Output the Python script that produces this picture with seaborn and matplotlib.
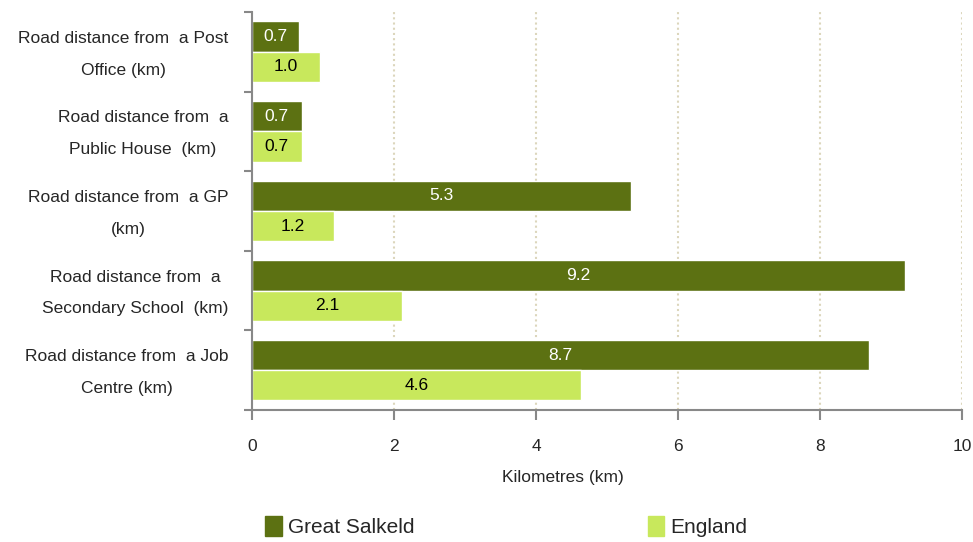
import matplotlib
matplotlib.use("Agg")
import matplotlib.pyplot as plt
import seaborn as sns
import pandas as pd

# categories and values
categories = [
    "Road distance from  a Post\nOffice (km)",
    "Road distance from  a\nPublic House  (km)",
    "Road distance from  a GP\n(km)",
    "Road distance from  a\nSecondary School  (km)",
    "Road distance from  a Job\nCentre (km)",
]
great_salkeld = [0.66, 0.70, 5.34, 9.20, 8.69]
england = [0.96, 0.70, 1.16, 2.11, 4.63]
series_names = ["Great Salkeld", "England"]
x_ticks = [0, 2, 4, 6, 8, 10]

dark = "#5c7112"
light = "#c8e85c"

df = pd.DataFrame({
    "category": categories * 2,
    "value": great_salkeld + england,
    "series": [series_names[0]] * len(categories) + [series_names[1]] * len(categories),
})

sns.set_style("white")
plt.rcParams["font.family"] = ["Liberation Sans", "DejaVu Sans"]

fig, ax = plt.subplots(figsize=(9.73, 5.42), dpi=100)
fig.subplots_adjust(left=0.259, right=0.9887, top=0.978, bottom=0.2435)

sns.barplot(data=df, y="category", x="value", hue="series", orient="h",
            palette=[dark, light], width=0.76, saturation=1, ax=ax, legend=False)

# value labels inside the bars
for cont, col in zip(ax.containers, ["white", "black"]):
    ax.bar_label(cont, labels=[f"{v:.1f}" for v in cont.datavalues],
                 label_type="center", color=col, fontsize=12.5)

ax.set_xlim(0, 10)
ax.set_ylim(len(categories) - 0.5, -0.5)
ax.set_xticks(x_ticks)
ax.set_xticklabels([str(t) for t in x_ticks], fontsize=12.5)
ax.tick_params(axis="x", bottom=True, length=7, width=1.5, color="#888888", pad=14)

ax.set_yticks([i + 0.03 for i in range(len(categories))])
ax.set_yticklabels(categories, fontsize=12.5, multialignment="center",
                   linespacing=2.4, va="center")
ax.tick_params(axis="y", which="major", left=False, length=0, pad=17)
ax.set_yticks([i - 0.5 for i in range(len(categories) + 1)], minor=True)
ax.tick_params(axis="y", which="minor", left=True, length=6, width=1.5, color="#888888")

ax.grid(axis="x", linestyle=(0, (1, 1.5)), color="#dcd6bc", linewidth=1.5)
ax.set_axisbelow(True)
for side in ["top", "right"]:
    ax.spines[side].set_visible(False)
for side in ["left", "bottom"]:
    ax.spines[side].set_color("#888888")
    ax.spines[side].set_linewidth(1.5)

ax.set_ylabel("")
ax.set_xlabel("Kilometres (km)", fontsize=12.5)
ax.xaxis.set_label_coords((563 - 252) / 710, -0.15)

handles = [plt.Rectangle((0, 0), 1, 1, color=c) for c in [dark, light]]
fig.legend(handles, series_names, loc="lower left", bbox_to_anchor=(0.253, -0.025),
           ncol=2, frameon=False, fontsize=15, handlelength=0.8, handleheight=1.1,
           handletextpad=0.3, columnspacing=11.2)

fig.savefig("out.png", dpi=100)
